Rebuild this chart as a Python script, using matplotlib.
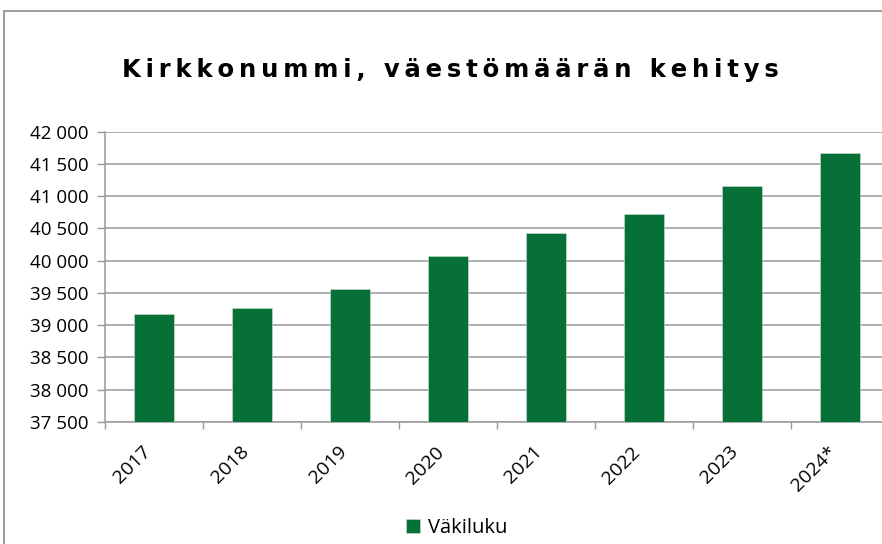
import numpy as np
import matplotlib.pyplot as plt
from matplotlib.patches import Rectangle
from matplotlib.ticker import FuncFormatter

years = ["2017", "2018", "2019", "2020", "2021", "2022", "2023", "2024*"]
vakiluku = [39170, 39265, 39555, 40080, 40435, 40725, 41155, 41665]
title = "Kirkkonummi, väestömäärän kehitys"

green = "#077036"
grid_gray = "#999999"

fig = plt.figure(figsize=(8.82, 5.44), dpi=100)
ax = fig.add_axes([105 / 882, 1 - 422 / 544, 784 / 882, (422 - 131.7) / 544])

x = np.arange(len(years))
ax.bar(x, vakiluku, width=0.4, color=green, edgecolor="#cfe3d6", linewidth=0.4,
       label="Väkiluku", zorder=3)

ax.set_ylim(37500, 42000)
ax.set_xlim(-0.5, len(years) - 0.5)
ax.set_yticks(np.arange(37500, 42001, 500))
ax.yaxis.set_major_formatter(FuncFormatter(lambda v, p: f"{int(v):,}".replace(",", " ")))
ax.grid(axis="y", color=grid_gray, linewidth=1.1, zorder=0)

# major ticks sit between categories, labels on minor ticks at bar centres
ax.set_xticks(np.arange(-0.5, len(years), 1.0))
ax.set_xticklabels([])
ax.set_xticks(x, minor=True)
ax.set_xticklabels(years, minor=True, rotation=45, ha="right", va="top",
                   fontsize=14, family="Open Sans")
ax.tick_params(axis="x", which="major", length=5, color=grid_gray, width=1)
ax.tick_params(axis="x", which="minor", length=0, pad=15)
ax.tick_params(axis="y", length=5.8, color=grid_gray, width=1, pad=6)
for lab in ax.get_yticklabels():
    lab.set_fontsize(13.5)
    lab.set_family("Open Sans")

for s in ["top", "right"]:
    ax.spines[s].set_visible(False)
for s in ["left", "bottom"]:
    ax.spines[s].set_color(grid_gray)
    ax.spines[s].set_linewidth(1.1)

# wide letter spacing in the title via thin spaces
fig.text(450.5 / 882, 1 - 77 / 544, "\u2009".join(title),
         ha="center", va="baseline", fontsize=17.5, fontweight="bold",
         family="DejaVu Sans")

fig.legend(loc="center", bbox_to_anchor=(456.5 / 882, 1 - 528 / 544), frameon=False,
           prop={"family": "Open Sans", "size": 14.5}, handlelength=0.7,
           handleheight=0.7, handletextpad=0.4)

fig.patches.append(Rectangle((4 / 882, -0.1), 1.0, 1 - 11 / 544 + 0.1,
                             transform=fig.transFigure, fill=False,
                             edgecolor="#8c8c8c", linewidth=1.2))

fig.savefig("out.png", dpi=100)
